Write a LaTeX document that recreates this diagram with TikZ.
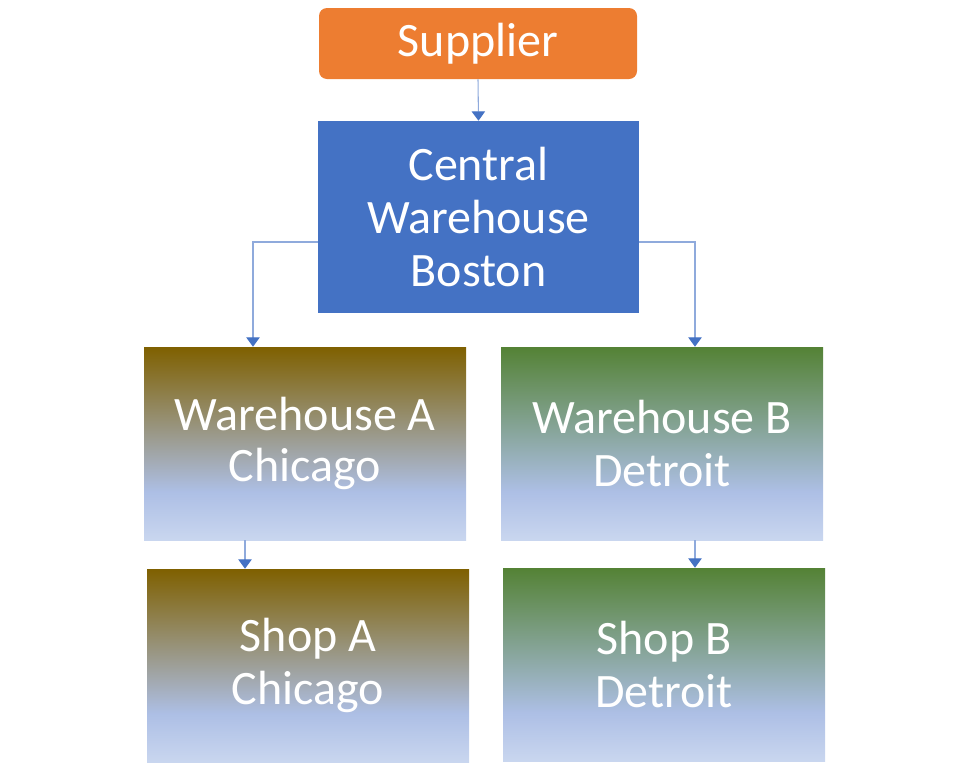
\documentclass[tikz,border=0pt]{standalone}
\usepackage{fontspec}
\setmainfont{Carlito}
\usetikzlibrary{arrows.meta}
\definecolor{orangeS}{HTML}{ED7D31}
\definecolor{blueC}{HTML}{4472C4}
\definecolor{lineC}{HTML}{8FAADC}
\definecolor{goldT}{HTML}{7F6000}
\definecolor{greenT}{HTML}{548235}
\definecolor{lblue}{HTML}{ADBFE5}
\definecolor{lbot}{HTML}{C9D6EF}
\pgfdeclareverticalshading{goldgrad}{100bp}{color(0bp)=(lbot); color(25bp)=(lbot); color(37.5bp)=(lblue); color(75bp)=(goldT); color(100bp)=(goldT)}
\pgfdeclareverticalshading{greengrad}{100bp}{color(0bp)=(lbot); color(25bp)=(lbot); color(37.5bp)=(lblue); color(75bp)=(greenT); color(100bp)=(greenT)}
\tikzset{
  box/.style={rectangle, draw=none, text=white, align=center,
    font=\fontsize{36}{39.75}\selectfont, inner sep=0pt,
    minimum width=241.5pt, minimum height=144.75pt},
  supbox/.style={box, fill=orangeS, rounded corners=6pt,
    minimum width=238.5pt, minimum height=53.25pt},
  centbox/.style={box, fill=blueC, minimum width=240.75pt, minimum height=144pt},
  goldbox/.style={box, shading=goldgrad},
  greenbox/.style={box, shading=greengrad},
  conn/.style={draw=lineC, line width=0.8pt,
    -{Triangle[width=10pt,length=7pt,color=blueC]}}
}
\begin{document}
\begin{tikzpicture}[x=0.75pt,y=-0.75pt]
\useasboundingbox (0,0) rectangle (973,768);
\node[supbox] (sup) at (478,43.5) {\raisebox{-3pt}{Supplier}};
\node[centbox] (cent) at (478.5,217) {Central\\Warehouse\\Boston};
\node[goldbox] (wa) at (305,443.5) {\raisebox{-1.5pt}{Warehouse A}\\Chicago};
\node[greenbox] (wb) at (662,443.5) {Warehouse B\\Detroit};
\node[goldbox] (sa) at (308,665.5) {Shop A\\Chicago};
\node[greenbox] (sb) at (664,664.5) {Shop B\\Detroit};
\draw[conn] (sup.south) -- (cent.north);
\draw[conn] ([shift={(0,25)}]cent.west) -| ([shift={(-52,0)}]wa.north);
\draw[conn] ([shift={(0,25)}]cent.east) -| ([shift={(33,0)}]wb.north);
\draw[conn] ([shift={(-60,0)}]wa.south) -- ([shift={(-63,0)}]sa.north);
\draw[conn] ([shift={(33,0)}]wb.south) -- ([shift={(31,0)}]sb.north);
\end{tikzpicture}
\end{document}
